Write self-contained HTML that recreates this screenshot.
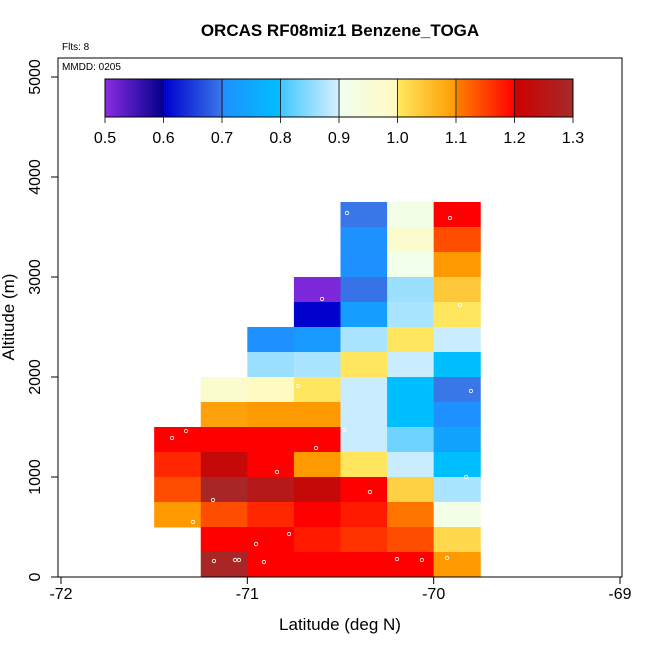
<!DOCTYPE html>
<html><head><meta charset="utf-8"><style>
body{margin:0;background:#fff;}
svg text{font-family:"Liberation Sans",sans-serif;}
</style></head><body>
<svg id="chart" width="650" height="650">
<text x="340" y="36" text-anchor="middle" font-weight="bold" font-size="17">ORCAS RF08miz1 Benzene_TOGA</text>
<text x="62" y="50" font-size="10">Flts: 8</text>
<g id="cells"></g>
<g id="pts"></g>
<rect x="58" y="58" width="564" height="519" fill="none" stroke="#000" stroke-width="1"/>
<text x="62" y="70" font-size="10">MMDD: 0205</text>
<g id="cbar"></g>
<g id="axes"></g>
<text x="340" y="630" text-anchor="middle" font-size="17">Latitude (deg N)</text>
<text transform="translate(14,317) rotate(-90)" text-anchor="middle" font-size="17">Altitude (m)</text>
</svg>
<script>
const latEdges=[-71.5,-71.25,-71.0,-70.75,-70.5,-70.25,-70.0,-69.75];
const altBottoms=[3500,3250,3000,2750,2500,2250,2000,1750,1500,1250,1000,750,500,250,0];
const cellValues=[
[null,null,null,null,0.699,0.92,1.2],
[null,null,null,null,0.704,0.97,1.14],
[null,null,null,null,0.701,0.91,1.1],
[null,null,null,0.51,0.695,0.86,1.04],
[null,null,null,0.601,0.73,0.87,1.002],
[null,null,0.701,0.72,0.87,1.002,0.89],
[null,null,0.86,0.87,1.002,0.89,0.8],
[null,0.97,0.995,1.002,0.89,0.8,0.699],
[null,1.09,1.1,1.1,0.89,0.8,0.701],
[1.2,1.2,1.2,1.2,0.89,0.83,0.74],
[1.17,1.22,1.2,1.1,1.002,0.89,0.8],
[1.14,1.29,1.26,1.22,1.2,1.03,0.87],
[1.1,1.14,1.17,1.2,1.18,1.11,0.92],
[null,1.2,1.2,1.18,1.16,1.14,1.02],
[null,1.29,1.2,1.2,1.2,1.2,1.1]];
const ptLat=[-70.465,-69.912,-70.599,-69.859,-70.728,-69.80,-71.329,-71.404,-70.481,-70.631,-70.841,-69.826,-70.342,-71.184,-71.292,-70.776,-70.953,-71.179,-71.066,-71.045,-70.911,-70.197,-70.063,-69.928];
const ptAlt=[3640,3590,2780,2720,1910,1860,1460,1390,1470,1290,1050,1000,850,770,550,430,330,160,170,170,150,180,170,190];
const xTicks=[-72,-71,-70,-69];
const yTicks=[0,1000,2000,3000,4000,5000];
const cbTicks=[0.5,0.6,0.7,0.8,0.9,1.0,1.1,1.2,1.3];
const stops=[[0.5,"#8a2be2"],[0.6,"#00008b"],[0.6,"#0000cd"],[0.7,"#3a78e8"],[0.7,"#1e90ff"],[0.8,"#00bfff"],[0.8,"#40c8ff"],[0.9,"#d8f0ff"],[0.9,"#f0fff0"],[1.0,"#fffac0"],[1.0,"#ffe860"],[1.1,"#ff9900"],[1.1,"#ff8000"],[1.2,"#ff0000"],[1.2,"#cd0000"],[1.3,"#a52a2a"]];
const X=v=>61+(v+72)*186.33, Y=a=>577-a*0.1;
function hx(h){return [1,3,5].map(i=>parseInt(h.substr(i,2),16));}
function col(v){v=Math.max(0.5,Math.min(1.3,v));
 for(let i=0;i<stops.length-1;i++){const a=stops[i],b=stops[i+1];
  if(v>=a[0]&&v<=b[0]&&b[0]>a[0]){const t=(v-a[0])/(b[0]-a[0]);const c1=hx(a[1]),c2=hx(b[1]);
   return "rgb("+c1.map((c,k)=>Math.round(c+(c2[k]-c)*t)).join(",")+")";}}
 return stops[stops.length-1][1];}
const NS="http://www.w3.org/2000/svg";
function mk(t,p,at){const e=document.createElementNS(NS,t);for(const k in at)e.setAttribute(k,at[k]);p.appendChild(e);return e;}
const cells=document.getElementById('cells');
cellValues.forEach((row,r)=>row.forEach((v,c)=>{if(v==null)return;
 const x0=X(latEdges[c]),x1=X(latEdges[c+1]),y0=Y(altBottoms[r]+250),y1=Y(altBottoms[r]);
 const e=mk('rect',cells,{x:x0,y:y0,width:x1-x0+0.5,height:y1-y0+0.5,fill:col(v)});
 
 }));
const pts=document.getElementById('pts');
ptLat.forEach((la,i)=>{const e=mk('circle',pts,{cx:X(la),cy:Y(ptAlt[i]),r:1.7,fill:'none',stroke:'#fff','stroke-width':0.8});
 
 });
const ax=document.getElementById('axes');
xTicks.forEach(t=>{mk('line',ax,{x1:X(t),x2:X(t),y1:577,y2:584,stroke:'#000'});
 const e=mk('text',ax,{x:X(t),y:599,'text-anchor':'middle','font-size':16});e.textContent=t;
 
 });
yTicks.forEach(t=>{mk('line',ax,{x1:51,x2:58,y1:Y(t),y2:Y(t),stroke:'#000'});
 const e=mk('text',ax,{transform:`translate(40,${Y(t)}) rotate(-90)`,'text-anchor':'middle','font-size':16});e.textContent=t;
 
 });
const cb=document.getElementById('cbar');
const CX=v=>105+(v-0.5)*585;
for(let i=0;i<468;i++){const v=0.5+i/585;mk('rect',cb,{x:105+i,y:79,width:1.2,height:38,fill:col(v)});}
mk('rect',cb,{x:105,y:79,width:468,height:38,fill:'none',stroke:'#000'});
cbTicks.forEach(t=>{mk('line',cb,{x1:CX(t),x2:CX(t),y1:79,y2:123,stroke:'#000','stroke-width':0.8});
 const e=mk('text',cb,{x:CX(t),y:143,'text-anchor':'middle','font-size':16});e.textContent=t.toFixed(1);
 
 });


</script>
</body></html>
